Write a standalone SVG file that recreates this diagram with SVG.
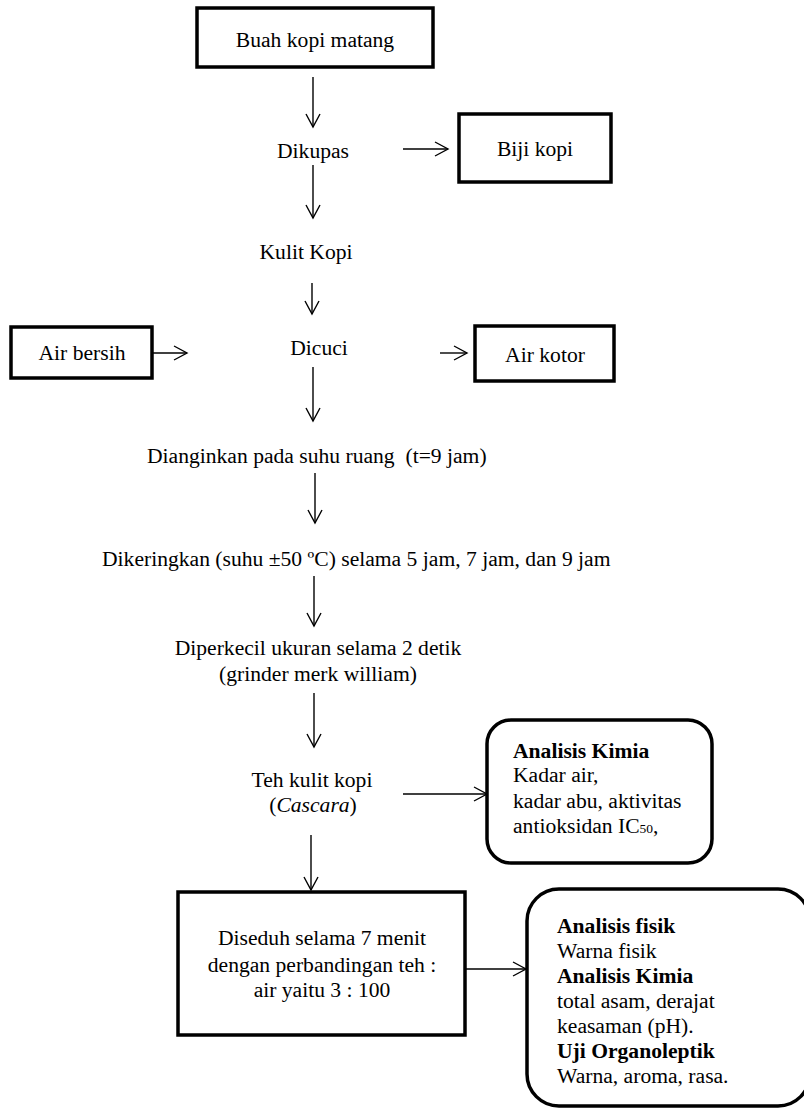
<svg xmlns="http://www.w3.org/2000/svg" width="804" height="1110" viewBox="0 0 804 1110">
<style>
text{font-family:"Liberation Serif","Times New Roman",serif;font-size:21.6px;fill:#000;white-space:pre}
.c{text-anchor:middle}
.b{font-weight:bold}
.box{fill:#fff;stroke:#000;stroke-width:3.5}
.ln{fill:none;stroke:#000;stroke-width:1.4;marker-end:url(#ah)}
</style>
<defs>
<marker id="ah" markerUnits="userSpaceOnUse" markerWidth="16" markerHeight="18" viewBox="0 0 16 18" refX="14" refY="9" orient="auto">
<path d="M1,2 L14,9 L1,16" fill="none" stroke="#000" stroke-width="1.4"/>
</marker>
</defs>
<rect width="804" height="1110" fill="#fff"/>

<g id="connectors">
<line class="ln" x1="313" y1="77" x2="313" y2="127"/>
<line class="ln" x1="403" y1="149" x2="448" y2="149"/>
<line class="ln" x1="313" y1="165" x2="313" y2="218"/>
<line class="ln" x1="312" y1="283" x2="312" y2="314"/>
<line class="ln" x1="152" y1="353" x2="187" y2="353"/>
<line class="ln" x1="440" y1="353" x2="467" y2="353"/>
<line class="ln" x1="313" y1="367" x2="313" y2="421"/>
<line class="ln" x1="315" y1="473" x2="315" y2="523"/>
<line class="ln" x1="314" y1="576" x2="314" y2="626"/>
<line class="ln" x1="314" y1="693" x2="314" y2="747"/>
<line class="ln" x1="403" y1="794" x2="487" y2="794"/>
<line class="ln" x1="311" y1="835" x2="311" y2="890"/>
<line class="ln" x1="466" y1="969" x2="526" y2="969"/>
</g>

<g id="buah">
<rect class="box" x="197" y="8" width="236" height="59"/>
<text class="c" x="315" y="47">Buah kopi matang</text>
</g>

<g id="dikupas">
<text class="c" x="313" y="158">Dikupas</text>
</g>

<g id="biji">
<rect class="box" x="459" y="114" width="152" height="68"/>
<text class="c" x="535" y="156">Biji kopi</text>
</g>

<g id="kulit">
<text class="c" x="306" y="259">Kulit Kopi</text>
</g>

<g id="airbersih">
<rect class="box" x="11" y="327" width="141" height="51"/>
<text class="c" x="82" y="360">Air bersih</text>
</g>

<g id="dicuci">
<text class="c" x="319" y="355">Dicuci</text>
</g>

<g id="airkotor">
<rect class="box" x="475" y="326" width="139" height="55"/>
<text class="c" x="545" y="362">Air kotor</text>
</g>

<g id="dianginkan">
<text x="147" y="463">Dianginkan pada suhu ruang  (t=9 jam)</text>
</g>

<g id="dikeringkan">
<text x="102" y="566">Dikeringkan (suhu ±50 ºC) selama 5 jam, 7 jam, dan 9 jam</text>
</g>

<g id="diperkecil">
<text class="c" x="318" y="655">Diperkecil ukuran selama 2 detik</text>
<text class="c" x="318" y="681">(grinder merk william)</text>
</g>

<g id="teh">
<text class="c" x="312" y="787">Teh kulit kopi</text>
<text class="c" x="313" y="812">(<tspan font-style="italic">Cascara</tspan>)</text>
</g>

<g id="kimia1">
<rect class="box" x="487" y="720" width="225" height="143" rx="24" ry="24"/>
<text class="b" x="513" y="758">Analisis Kimia</text>
<text x="513" y="782">Kadar air,</text>
<text x="513" y="808">kadar abu, aktivitas</text>
<text x="513" y="833">antioksidan IC<tspan font-size="13.5">50</tspan>,</text>
</g>

<g id="diseduh">
<rect class="box" x="178" y="892" width="287" height="143"/>
<text class="c" x="322" y="945">Diseduh selama 7 menit</text>
<text class="c" x="322" y="972">dengan perbandingan teh :</text>
<text class="c" x="322" y="997">air yaitu 3 : 100</text>
</g>

<g id="analisis2">
<rect class="box" x="527" y="889" width="283" height="217" rx="32" ry="32"/>
<text class="b" x="557" y="933">Analisis fisik</text>
<text x="557" y="958">Warna fisik</text>
<text class="b" x="557" y="983">Analisis Kimia</text>
<text x="557" y="1008">total asam, derajat</text>
<text x="557" y="1033">keasaman (pH).</text>
<text class="b" x="557" y="1058">Uji Organoleptik</text>
<text x="557" y="1083">Warna, aroma, rasa.</text>
</g>
</svg>
